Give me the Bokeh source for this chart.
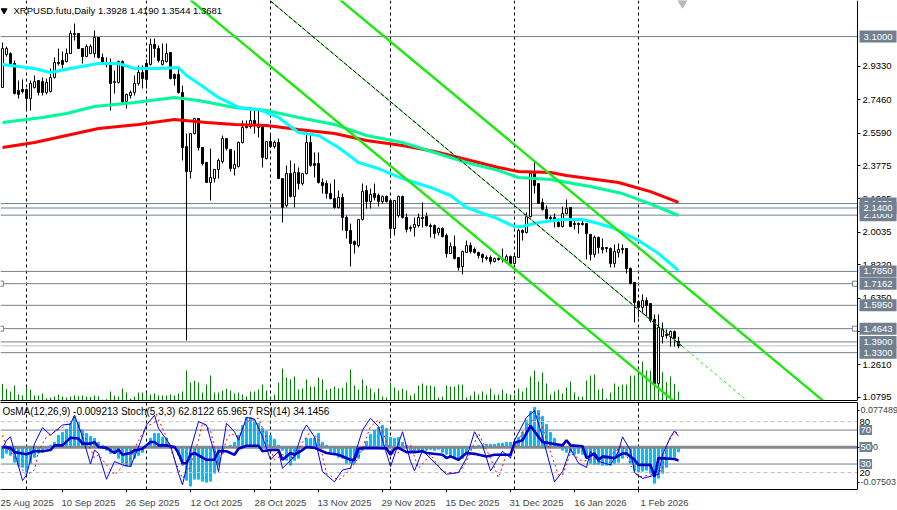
from bokeh.plotting import figure
from bokeh.layouts import column
from bokeh.models import Range1d, FixedTicker, PrintfTickFormatter, LinearAxis, Label
from bokeh.embed import file_html
from bokeh.resources import INLINE

opens = [2.815,3.000,3.005,2.949,2.798,2.804,2.804,2.753,2.815,2.854,2.848,2.787,2.792,2.871,2.955,2.966,2.960,3.005,3.117,3.117,
3.033,2.988,3.005,3.005,3.095,2.983,2.955,2.955,2.843,2.843,2.960,2.736,2.770,2.787,2.837,2.899,2.949,2.944,3.056,3.033,
2.944,2.960,3.011,2.888,2.888,2.787,2.484,2.344,2.557,2.641,2.479,2.395,2.283,2.305,2.356,2.400,2.529,2.468,2.361,2.372,
2.507,2.602,2.596,2.630,2.591,2.596,2.417,2.512,2.484,2.507,2.305,2.154,2.333,2.204,2.339,2.277,2.333,2.507,2.389,2.389,
2.283,2.277,2.221,2.193,2.143,2.199,2.087,2.014,1.952,1.930,2.076,2.238,2.176,2.221,2.210,2.176,2.204,2.182,2.025,2.098,
2.204,2.087,2.031,2.031,2.042,2.087,2.092,2.042,2.042,2.003,2.025,1.986,1.885,1.924,1.863,1.812,1.891,1.930,1.908,1.891,
1.880,1.857,1.863,1.840,1.857,1.852,1.846,1.868,1.829,1.863,2.014,2.003,2.092,2.333,2.277,2.171,2.132,2.087,2.087,2.059,
2.036,2.109,2.143,2.053,2.053,2.053,2.053,1.992,1.880,1.975,1.919,1.919,1.913,1.829,1.891,1.913,1.913,1.801,1.723,1.616,
1.583,1.622,1.605,1.516,1.157,1.420,1.432,1.420,1.448,1.3928]
highs = [3.067,3.044,3.011,2.966,2.854,2.860,2.809,2.854,2.882,2.854,2.871,2.865,2.921,2.983,3.033,3.016,3.033,3.134,3.173,3.117,
3.033,3.056,3.056,3.134,3.095,3.005,2.983,2.977,2.910,2.966,2.966,2.781,2.798,2.882,2.938,2.938,2.972,3.089,3.089,3.050,
3.061,3.061,3.011,2.893,2.921,2.826,2.557,2.557,2.641,2.641,2.479,2.395,2.473,2.356,2.417,2.546,2.529,2.468,2.462,2.512,
2.630,2.630,2.686,2.697,2.686,2.596,2.512,2.552,2.518,2.529,2.305,2.378,2.406,2.389,2.367,2.333,2.557,2.557,2.451,2.451,
2.305,2.294,2.277,2.300,2.238,2.221,2.098,2.053,1.958,2.076,2.277,2.266,2.249,2.277,2.221,2.210,2.210,2.182,2.182,2.210,
2.210,2.109,2.042,2.087,2.109,2.171,2.115,2.053,2.048,2.031,2.031,1.997,1.947,1.986,1.863,1.902,1.958,1.947,1.919,1.896,
1.885,1.874,1.874,1.863,1.863,1.913,1.880,1.874,1.874,2.025,2.020,2.115,2.339,2.395,2.277,2.193,2.154,2.098,2.109,2.081,
2.148,2.188,2.143,2.070,2.059,2.070,2.053,1.992,1.986,1.980,1.969,1.919,1.919,1.936,1.941,1.936,1.913,1.807,1.723,1.622,
1.656,1.639,1.605,1.544,1.544,1.499,1.460,1.454,1.454,1.4190]
lows = [2.815,2.988,2.944,2.776,2.753,2.781,2.692,2.686,2.809,2.770,2.770,2.776,2.787,2.865,2.938,2.921,2.955,3.005,3.078,3.033,
2.949,2.988,3.005,2.983,2.977,2.949,2.927,2.686,2.781,2.837,2.725,2.697,2.753,2.770,2.826,2.809,2.809,2.938,2.983,2.955,
2.938,2.955,2.860,2.826,2.781,2.406,1.398,2.305,2.552,2.462,2.378,2.283,2.182,2.283,2.305,2.389,2.462,2.344,2.322,2.367,
2.501,2.585,2.585,2.557,2.535,2.367,2.412,2.479,2.473,2.305,2.059,2.143,2.199,2.143,2.244,2.266,2.328,2.372,2.311,2.277,
2.221,2.193,2.188,2.137,2.137,2.014,1.969,1.812,1.885,1.919,2.070,2.137,2.137,2.182,2.148,2.165,2.171,1.969,1.986,2.087,
2.081,2.003,2.008,1.980,2.031,2.031,2.036,1.975,1.969,1.986,1.975,1.863,1.885,1.852,1.790,1.768,1.891,1.885,1.885,1.857,
1.835,1.846,1.824,1.835,1.846,1.835,1.829,1.818,1.829,1.863,1.958,1.997,2.087,2.221,2.165,2.126,2.076,2.070,2.031,2.031,
2.031,2.104,2.036,2.020,1.997,2.042,1.852,1.846,1.863,1.885,1.885,1.891,1.807,1.807,1.863,1.885,1.773,1.712,1.499,1.527,
1.549,1.527,1.499,1.157,1.152,1.381,1.409,1.364,1.364,1.3544]
closes = [3.033,3.033,2.949,2.781,2.776,2.792,2.753,2.837,2.848,2.787,2.787,2.843,2.871,2.955,2.949,2.944,3.005,3.117,3.112,3.033,
2.988,3.044,3.044,3.095,2.983,2.955,2.949,2.837,2.848,2.960,2.736,2.776,2.787,2.837,2.899,2.865,2.860,3.056,3.033,2.966,
2.966,3.005,2.865,2.865,2.787,2.479,2.344,2.557,2.641,2.479,2.389,2.283,2.311,2.356,2.406,2.529,2.473,2.361,2.384,2.507,
2.591,2.591,2.630,2.608,2.608,2.423,2.512,2.484,2.507,2.305,2.143,2.333,2.204,2.339,2.277,2.333,2.507,2.378,2.378,2.283,
2.266,2.221,2.193,2.143,2.199,2.087,2.014,1.941,1.936,2.076,2.232,2.176,2.216,2.199,2.176,2.204,2.176,2.025,2.182,2.204,
2.087,2.020,2.025,2.048,2.087,2.081,2.042,2.036,1.997,2.025,1.980,1.885,1.924,1.857,1.807,1.896,1.930,1.896,1.891,1.874,
1.863,1.863,1.840,1.857,1.852,1.857,1.868,1.829,1.868,2.014,2.003,2.092,2.333,2.266,2.165,2.132,2.081,2.081,2.076,2.036,
2.109,2.137,2.036,2.048,2.048,2.048,1.997,1.880,1.975,1.919,1.908,1.913,1.829,1.896,1.908,1.908,1.801,1.717,1.611,1.583,
1.622,1.594,1.510,1.157,1.471,1.460,1.426,1.448,1.409,1.3681]
volumes = [50,35,27,45,18,15,42,32,15,15,21,7,9,12,18,12,9,12,15,13,15,12,10,15,13,3,4,27,15,12,36,24,6,12,24,24,23,18,21,15,
15,15,18,15,21,27,90,54,60,54,24,48,75,24,24,30,36,30,21,24,18,12,27,27,33,48,30,12,18,54,96,69,63,72,33,36,63,42,42,69,
63,33,36,42,36,38,54,93,45,33,63,45,36,24,36,12,9,54,39,30,36,30,15,21,45,51,45,45,42,9,12,45,42,42,48,48,9,15,27,18,
27,18,36,18,18,33,21,18,18,36,27,39,72,90,57,84,51,18,27,33,21,39,57,24,12,12,60,75,78,33,36,6,24,51,42,48,48,75,75,75,
117,90,90,125,125,85,55,72,50,27]

ma_cyan_idx = [0,8,12,17,24,29,33,39,44,46,49,54,59,64,69,74,79,84,89,94,100,107,112,116,123,128,130,134,140,145,149,153,159,164,169]
ma_cyan = [2.944,2.921,2.899,2.921,2.949,2.949,2.921,2.921,2.927,2.882,2.837,2.759,2.703,2.692,2.647,2.563,2.546,2.479,2.395,2.361,2.305,2.255,2.210,2.143,2.087,2.036,2.036,2.059,2.076,2.076,2.053,2.025,1.958,1.885,1.790]
ma_green_idx = [0,10,16,23,33,43,49,58,66,74,83,91,100,108,116,124,129,137,147,155,161,169]
ma_green = [2.619,2.647,2.669,2.708,2.731,2.759,2.742,2.703,2.686,2.647,2.608,2.546,2.507,2.451,2.395,2.350,2.311,2.300,2.260,2.221,2.171,2.098]
ma_red_idx = [0,8,16,24,34,43,51,58,66,74,83,91,100,108,116,124,129,137,141,154,162,169]
ma_red = [2.479,2.507,2.546,2.585,2.608,2.636,2.619,2.608,2.602,2.580,2.557,2.518,2.490,2.456,2.412,2.367,2.344,2.339,2.322,2.283,2.232,2.171]

channel_lower_idx = [47,168]
channel_lower = [3.305,1.056]
channel_upper_idx = [84,206]
channel_upper = [3.313,1.045]
channel_mid_idx = [67,170]
channel_mid = [3.299,1.364]
channel_ext_idx = [170,186]
channel_ext = [1.364,1.065]

osma = [-.022,-.012,-.016,-.030,-.036,-.040,-.050,-.032,-.020,-.012,-.010,-.002,.004,.010,.024,.030,.036,.048,.062,.050,
.034,.028,.022,.018,.010,.004,-.006,-.012,-.012,-.022,-.032,-.038,-.038,-.022,-.016,-.010,0,.018,.028,.028,
.020,.018,.004,0,-.016,-.036,-.066,-.078,-.064,-.064,-.068,-.070,-.068,-.052,-.036,-.012,0,.004,.010,.024,
.044,.060,.060,.054,.048,.038,.032,.024,.016,.004,-.006,-.026,-.036,-.026,-.022,-.006,.018,.018,.018,.028,
.010,.004,-.010,-.014,-.020,-.022,-.032,-.032,-.032,-.022,-.006,.012,.026,.034,.040,.044,.038,.020,.018,.020,
.010,.004,-.006,-.010,-.006,-.006,-.006,-.004,-.006,-.004,-.010,-.014,-.020,-.022,-.026,-.022,-.010,-.004,-.002,.004,
.004,.006,.006,.006,.008,.008,.010,.010,.012,.020,.030,.054,.072,.080,.074,.062,.046,.030,.018,.004,
-.006,-.010,-.010,-.014,-.012,-.014,-.020,-.032,-.034,-.034,-.036,-.036,-.036,-.032,-.030,-.022,-.016,-.032,-.046,-.050,
-.048,-.046,-.052,-.072,-.062,-.052,-.040,-.022,-.020,-.009213]

rsi_idx = [0,2,3,6,8,10,12,13,15,17,19,20,22,23,24,26,28,29,30,32,33,35,37,38,39,41,43,44,45,46,47,48,51,53,54,56,58,59,61,64,65,67,69,70,72,73,75,76,78,81,84,87,88,89,91,96,97,98,99,101,103,105,106,110,111,112,114,116,118,121,123,127,128,130,132,134,135,140,141,142,145,146,148,149,150,153,155,156,158,159,162,163,164,168,169]
rsi = [50,49,44,41.5,45,45,46.5,52,52,61,60,54,54,56,50,49,43,47,41,43,46,48,56,56,52,52,50,43,31,31,41,43,35,35,45,45,41,48,51.5,51.5,45,46.5,46.5,35,43,41,46.5,50,49,43,41,35,35,48,49,48.5,41,48,49,44,44,45,43,41,37,39,35,43,42,39,41,41,55,58,75,62,56,52,58,52,51,37,42.5,35,39,37,42.5,42.5,35,29,29,15,37,36,34.1456]
stoch_idx = [0,1,2,3,5,6,8,10,12,15,17,18,20,22,23,24,26,28,30,32,34,36,38,39,42,44,45,47,49,51,53,54,56,58,59,61,63,65,67,69,70,73,75,76,78,80,83,85,87,90,92,94,97,100,102,103,105,109,111,114,116,118,120,122,125,127,128,131,133,135,138,140,142,144,146,147,149,152,154,155,157,158,160,164,165,167,168,169]
stoch = [48,58,62,44.5,10.5,17,54,73,64,76,77,87.5,62,30,46.5,42.5,12,33,29,27,50,76,87.5,72,52,19,5.5,46.5,80,76,42.5,21,78,68,58,85,83,62,35,45,25,39,68,76,62,21,9,23,25,70,84,74,27,68,33,22,46,27,18,20,37,68,52,22,45,37,58,85,93,62,9,21,48,31,26,45,33,29,45,62,46,20,13,18,41,62,69,62.8122]
signal_idx = [0,1,3,4,6,8,9,11,13,15,17,18,21,23,24,26,28,30,32,34,36,39,41,43,45,47,49,50,52,54,56,57,59,61,64,66,68,70,73,75,77,79,81,84,86,89,92,94,96,98,102,104,107,110,114,116,119,122,124,126,127,130,134,136,139,140,142,145,148,151,155,157,159,162,165,166,168,169]
signal = [64,50,39,29,17,23,46,62,68,73,80,85,58,37,41,29,17,27,37,58,74,82,62,35,13,27,58,78,70,29,58,66,62,80,84,60,35,41,37,56,68,60,19,11,19,37,74,82,56,41,52,25,41,21,19,33,66,37,14,42,38,68,90,58,17,17,43,33,37,37,52,29,15,17,23,52,68,65.9657]

price_levels = [3.1,2.165,2.14,2.10,1.785,1.7162,1.595,1.4643,1.39,1.33]
price_level_text = ["3.1000","2.1650","2.1400","2.1000","1.7850","1.7162","1.5950","1.4643","1.3900","1.3300"]
label_order = [0,3,1,2,4,5,6,7,8,9]
last_price = 1.3681
anchor_idx = [-0.4,-0.4,213.1,213.1]
anchor_prices = [1.7162,1.4643,1.7162,1.4643]
price_ticks = [2.933,2.746,2.559,2.3775,2.1905,2.0035,1.822,1.635,1.451,1.261,1.0795]
month_idx = [6,36,67,97,128,159]
date_idx = [-1,15,31,47,63,79,95,111,127,143,159]
date_text = ["25 Aug 2025","10 Sep 2025","26 Sep 2025","12 Oct 2025","28 Oct 2025","13 Nov 2025","29 Nov 2025","15 Dec 2025","31 Dec 2025","16 Jan 2026","1 Feb 2026"]
title_text = "XRPUSD.futu,Daily  1.3928 1.4190 1.3544 1.3681"
sub_text = "OsMA(12,26,9) -0.009213  Stoch(5,3,3) 62.8122 65.9657  RSI(14) 34.1456"

FONT = "Liberation Sans"
SLATE = "#708090"
GREEN = "#1ee810"
idx = list(range(len(opens)))
x_start, x_split, x_end = -0.5, 213.75, 223.75

main = figure(width=897, height=401, frame_width=897, frame_height=400, output_backend="svg", toolbar_location=None,
              x_range=Range1d(x_start, x_end), y_range=Range1d(3.302-0.0056*400, 3.302), x_axis_location=None, y_axis_location=None,
              min_border_left=0, min_border_top=0, min_border_bottom=1, min_border_right=0, outline_line_color=None)
main.grid.visible = False
main.extra_y_ranges = {"vol": Range1d(0, 1200)}

raxis = LinearAxis(fixed_location=x_split, ticker=FixedTicker(ticks=price_ticks), formatter=PrintfTickFormatter(format="%.4f"),
                   major_label_text_font=FONT, major_label_text_font_size="9.5px", major_label_text_color="black",
                   major_tick_in=0, major_tick_out=3, minor_tick_line_color=None, major_tick_line_color="black",
                   axis_line_color="black", major_label_standoff=2)
main.add_layout(raxis, "right")
baxis = LinearAxis(ticker=FixedTicker(ticks=[]), major_label_text_font_size="0px", major_tick_line_color=None,
                   minor_tick_line_color=None, axis_line_color="black", bounds=(x_start, x_split))
main.add_layout(baxis, "below")

main.vspan(x=month_idx, line_color="black", line_dash="3 3", line_width=1)
main.segment(x_start, price_levels, x_split, price_levels, line_color=SLATE, line_width=1)
main.segment(x_start, [last_price], x_split, [last_price], line_color="#c0c0c0", line_width=1)
main.segment(idx, [0]*len(idx), idx, volumes, y_range_name="vol", line_color="#008000", line_width=1)

main.segment(idx, lows, idx, highs, line_color="black", line_width=1)
body_top = [max(o, c) for o, c in zip(opens, closes)]
body_bot = [min(o, c) for o, c in zip(opens, closes)]
fills = ["white" if c > o else "black" for o, c in zip(opens, closes)]
main.vbar(x=idx, top=body_top, bottom=body_bot, width=0.5, fill_color=fills, line_color="black", line_width=1)

main.line(ma_red_idx, ma_red, line_color="#ff0000", line_width=3)
main.line(ma_green_idx, ma_green, line_color="#00fa9a", line_width=3)
main.line(ma_cyan_idx, ma_cyan, line_color="#00ffff", line_width=3)

main.line(channel_lower_idx, channel_lower, line_color=GREEN, line_width=2.4)
main.line(channel_upper_idx, channel_upper, line_color=GREEN, line_width=2.4)
main.line(channel_mid_idx, channel_mid, line_color=GREEN, line_width=1)
main.line(channel_mid_idx, channel_mid, line_color="black", line_width=1, line_dash=[4,2])
main.line(channel_ext_idx, channel_ext, line_color=GREEN, line_width=1, line_dash=[3,3])
main.scatter(anchor_idx, anchor_prices, marker="square", size=5, fill_color="white", line_color=SLATE, line_width=1)
main.scatter([170], [3.288], marker="inverted_triangle", size=9, fill_color="#b8b8b8", line_color="#b8b8b8")

main.add_layout(Label(x=13, y=390, x_units="screen", y_units="screen", text=title_text, text_font=FONT,
                      text_font_size="9.5px", text_color="black", text_baseline="middle"))
main.scatter([0.4], [3.246], marker="inverted_triangle", size=6, fill_color="black", line_color="black")
for k in label_order:
    main.add_layout(Label(x=859, y=price_levels[k], x_units="screen", text=price_level_text[k], text_font=FONT,
                          text_font_size="9.5px", text_color="white", text_baseline="middle",
                          background_fill_color=SLATE, padding=(4,3)))

sub = figure(width=897, height=109, frame_width=897, frame_height=87, output_backend="svg", toolbar_location=None,
             x_range=Range1d(x_start, x_end), y_range=Range1d(-0.0848, 0.09), x_axis_location=None, y_axis_location=None,
             min_border_left=0, min_border_top=1, min_border_bottom=21, min_border_right=0, outline_line_color=None)
sub.grid.visible = False
sub.extra_y_ranges = {"osc": Range1d(0, 102.5)}
r2 = LinearAxis(fixed_location=x_split, ticker=FixedTicker(ticks=[0.074, 0, -0.07]), major_label_overrides={0.074:"0.077489", 0:"0.00", -0.07:"-0.07503"},
                major_label_text_font=FONT, major_label_text_font_size="9px", major_tick_in=0, major_tick_out=2,
                minor_tick_line_color=None, axis_line_color="black", major_label_standoff=1)
sub.add_layout(r2, "right")
t2 = LinearAxis(ticker=FixedTicker(ticks=[]), major_label_text_font_size="0px", major_tick_line_color=None,
                minor_tick_line_color=None, axis_line_color="black", bounds=(x_start, x_split))
sub.add_layout(t2, "above")
date_label_pos = [i + 6.5 for i in date_idx]
b2 = LinearAxis(ticker=FixedTicker(ticks=date_label_pos, minor_ticks=date_idx),
                major_label_overrides=dict(zip(date_label_pos, date_text)),
                major_label_text_font=FONT, major_label_text_font_size="9.5px", major_tick_in=0, major_tick_out=0,
                minor_tick_in=0, minor_tick_out=3, minor_tick_line_color="black", axis_line_color="black",
                major_label_standoff=4, bounds=(x_start, x_split))
sub.add_layout(b2, "below")

sub.vspan(x=month_idx, line_color="black", line_dash="3 3", line_width=1)
sub.vbar(x=idx, top=osma, bottom=0, width=0.5, fill_color="#00bfff", line_color="#00bfff", line_width=1)
sub.segment(x_start, [0], x_split, [0], line_color="#808890", line_width=3)
sub.segment(x_start, [80,20], x_split, [80,20], y_range_name="osc", line_color="#c0c0c0", line_width=1, line_dash="4 3")
sub.segment(x_start, [70,30], x_split, [70,30], y_range_name="osc", line_color=SLATE, line_width=1)
sub.line(signal_idx, signal, y_range_name="osc", line_color="#ff0000", line_width=1, line_dash=[2,3])
sub.line(stoch_idx, stoch, y_range_name="osc", line_color="#0000ff", line_width=1)
sub.line(rsi_idx, rsi, y_range_name="osc", line_color="#0000cd", line_width=2.6)

sub.add_layout(Label(x=2, y=78, x_units="screen", y_units="screen", text=sub_text, text_font=FONT, text_font_size="10px",
                     text_color="black", text_baseline="middle"))
for lv, boxed in [(80, False), (20, False), (70, True), (50, True), (30, True)]:
    kw = dict(background_fill_color=SLATE, padding=(1,2)) if boxed else {}
    sub.add_layout(Label(x=859, y=lv, x_units="screen", y_range_name="osc", text=str(lv), text_font=FONT, text_font_size="9.5px",
                         text_color="white" if boxed else "black", text_baseline="middle", **kw))

page = column(main, sub, spacing=0)
open("out.html", "w").write(file_html(page, INLINE))
